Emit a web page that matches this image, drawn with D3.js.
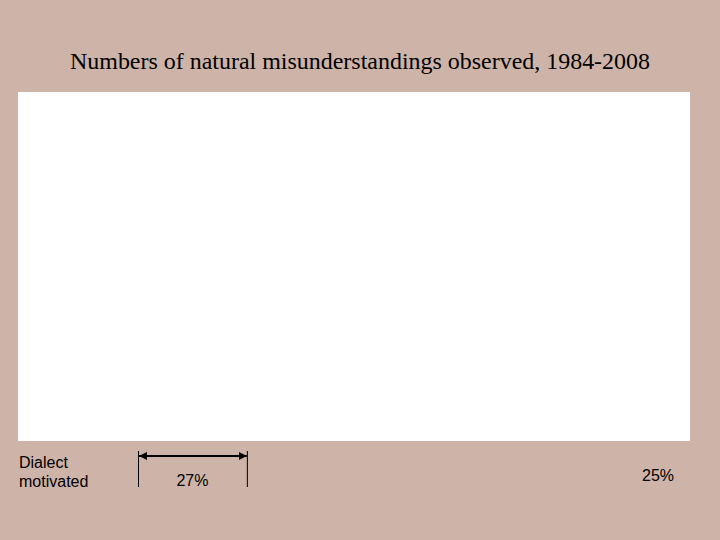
<!DOCTYPE html>
<html>
<head>
<meta charset="utf-8">
<script src="https://cdn.jsdelivr.net/npm/d3@7"></script>
<style>
html,body{margin:0;padding:0;background:#ceb3a8;}
svg{display:block;}
</style>
</head>
<body>
<script>
const title = "Numbers of natural misunderstandings observed, 1984-2008";
const rowLabel = ["Dialect", "motivated"];
const segments = ["first", "rest"];
const segmentStart = [0.0, 0.175];
const segmentEnd = [0.175, 1.0];
const percentLabels = ["27%", "25%"];

const W = 720, H = 540;
const svg = d3.select("body").append("svg").attr("width", W).attr("height", H);
svg.append("rect").attr("width", W).attr("height", H).attr("fill", "#ceb3a8");

// plot area
const plot = {x0: 18, x1: 690, y0: 92, y1: 441};
svg.append("rect").attr("x", plot.x0).attr("y", plot.y0)
  .attr("width", plot.x1 - plot.x0).attr("height", plot.y1 - plot.y0)
  .attr("fill", "#ffffff");

svg.append("text").attr("x", 360).attr("y", 69)
  .attr("text-anchor", "middle")
  .attr("font-family", "Liberation Serif, Times New Roman, serif")
  .attr("font-size", 23.8).attr("fill", "#000")
  .attr("textLength", 580).attr("lengthAdjust", "spacingAndGlyphs")
  .text(title);

// fraction scale across the bracket region
const x = d3.scaleLinear().domain([0, 1]).range([138, 760]);

const lab = svg.append("text")
  .attr("font-family", "Liberation Sans, Arial, sans-serif")
  .attr("font-size", 16).attr("fill", "#000");
rowLabel.forEach((t, i) => lab.append("tspan").attr("x", 19).attr("y", 468 + i * 19).text(t));

svg.append("defs").append("marker").attr("id", "ah")
  .attr("viewBox", "0 0 10 10").attr("refX", 10).attr("refY", 5)
  .attr("markerWidth", 4).attr("markerHeight", 4).attr("orient", "auto-start-reverse")
  .append("path").attr("d", "M0,0L10,5L0,10Z").attr("fill", "#000");

// bracket for first segment
const s0 = x(segmentStart[0]), s1 = x(segmentEnd[0]);
svg.append("line").attr("x1", s0 + 0.5).attr("x2", s0 + 0.5).attr("y1", 451).attr("y2", 487)
  .attr("stroke", "#000").attr("stroke-width", 1);
svg.append("line").attr("x1", s1 + 0.5).attr("x2", s1 + 0.5).attr("y1", 451).attr("y2", 487)
  .attr("stroke", "#000").attr("stroke-width", 1);
svg.append("line").attr("x1", s0 + 1).attr("x2", s1).attr("y1", 456).attr("y2", 456)
  .attr("stroke", "#000").attr("stroke-width", 2)
  .attr("marker-start", "url(#ah)").attr("marker-end", "url(#ah)");

svg.append("text").attr("x", (s0 + s1) / 2).attr("y", 486)
  .attr("text-anchor", "middle")
  .attr("font-family", "Liberation Sans, Arial, sans-serif")
  .attr("font-size", 16).attr("fill", "#000")
  .text(percentLabels[0]);

svg.append("text").attr("x", 658).attr("y", 481)
  .attr("text-anchor", "middle")
  .attr("font-family", "Liberation Sans, Arial, sans-serif")
  .attr("font-size", 16).attr("fill", "#000")
  .text(percentLabels[1]);
</script>
</body>
</html>
